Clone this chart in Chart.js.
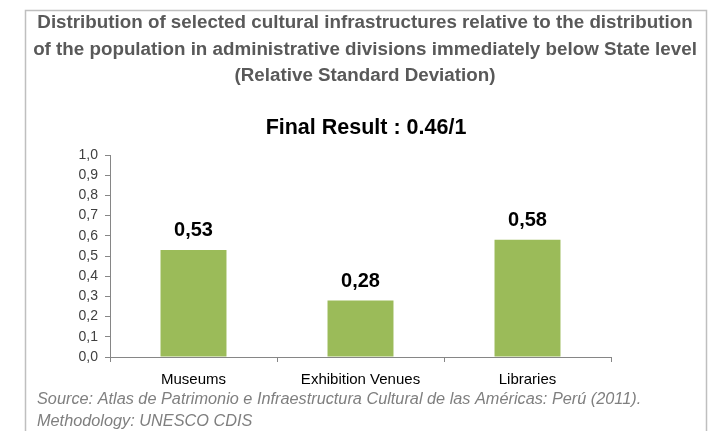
<!DOCTYPE html>
<html>
<head>
<meta charset="utf-8">
<script src="https://cdn.jsdelivr.net/npm/chart.js@4.4.1/dist/chart.umd.min.js"></script>
<style>
  html, body { margin: 0; padding: 0; background: #fff; }
  #wrap { width: 716px; height: 431px; }
</style>
</head>
<body>
<div id="wrap"><canvas id="chart" width="716" height="431"></canvas></div>
<script>
// chart data
const categories = ['Museums', 'Exhibition Venues', 'Libraries'];
const values = [0.53, 0.28, 0.58];
const titleLines = [
  'Distribution of selected cultural infrastructures relative to the distribution',
  'of the population in administrative divisions immediately below State level',
  '(Relative Standard Deviation)'
];
const subtitleText = 'Final Result : 0.46/1';
const sourceLines = [
  'Source: Atlas de Patrimonio e Infraestructura Cultural de las Américas: Perú (2011).',
  'Methodology: UNESCO CDIS'
];

const FONT = "'Liberation Sans', Arial, sans-serif";
const fmt = v => v.toFixed(2).replace('.', ',');

// frame, titles, value labels and source note
const decor = {
  id: 'decor',
  beforeDraw(chart) {
    const ctx = chart.ctx;
    ctx.save();
    ctx.strokeStyle = '#bfbfbf';
    ctx.lineWidth = 1.5;
    ctx.strokeRect(25.5, 10.5, 681, 440);
    ctx.restore();
  },
  afterDraw(chart) {
    const ctx = chart.ctx;
    ctx.save();
    ctx.textAlign = 'center';
    ctx.textBaseline = 'middle';
    ctx.fillStyle = '#595959';
    ctx.font = 'bold 18.8px ' + FONT;
    titleLines.forEach((t, i) => ctx.fillText(t, 365, 23 + i * 26.5));
    ctx.fillStyle = '#000';
    ctx.font = 'bold 21.5px ' + FONT;
    ctx.fillText(subtitleText, 366, 128);

    // value labels above bars
    const meta = chart.getDatasetMeta(0);
    ctx.font = 'bold 20px ' + FONT;
    meta.data.forEach((bar, i) => {
      ctx.fillText(fmt(values[i]), bar.x, bar.y - 19);
    });

    // source note
    ctx.textAlign = 'left';
    ctx.fillStyle = '#7f7f7f';
    ctx.font = 'italic 16.3px ' + FONT;
    sourceLines.forEach((t, i) => ctx.fillText(t, 37, 399 + i * 22));
    ctx.restore();
  }
};

new Chart(document.getElementById('chart'), {
  type: 'bar',
  data: {
    labels: categories,
    datasets: [{
      data: values,
      backgroundColor: '#9bbb59',
      barPercentage: 0.395,
      categoryPercentage: 1
    }]
  },
  options: {
    responsive: false,
    animation: false,
    layout: { padding: { left: 60, right: 105, top: 155, bottom: 44 } },
    plugins: {
      legend: { display: false },
      tooltip: { enabled: false }
    },
    scales: {
      x: {
        grid: { drawOnChartArea: false, drawTicks: true, tickLength: 5, color: '#868686' },
        border: { color: '#868686' },
        ticks: { color: '#000', font: { family: FONT, size: 15 }, padding: 9 },
        afterFit(s) { s.height = 30; }
      },
      y: {
        min: 0,
        max: 1,
        grid: { drawOnChartArea: false, drawTicks: true, tickLength: 5, color: '#868686' },
        border: { color: '#868686' },
        ticks: {
          stepSize: 0.1,
          color: '#404040',
          font: { family: FONT, size: 14 },
          padding: 7,
          callback: v => v.toFixed(1).replace('.', ',')
        },
        afterFit(s) { s.width = 50; }
      }
    }
  },
  plugins: [decor]
});
</script>
</body>
</html>
